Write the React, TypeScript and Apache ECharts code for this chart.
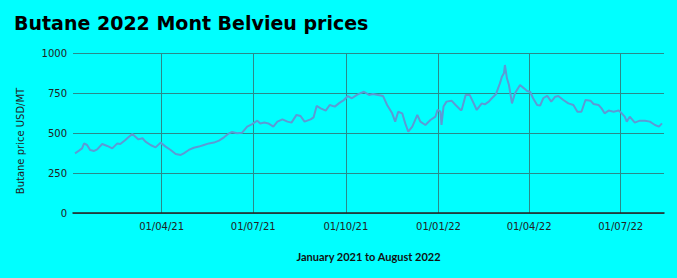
import React, { useEffect, useRef } from "react";
import * as echarts from "echarts";

// day offsets from 1 Jan 2021
const dayOffsets = [
  4, 8, 11, 13, 16, 19, 23, 26, 31, 36, 41, 46, 49, 54, 57, 61, 64, 67, 71, 74,
  79, 84, 89, 94, 99, 104, 109, 112, 117, 122, 127, 132, 137, 142, 147, 152, 157, 160, 165, 170,
  175, 180, 185, 188, 192, 196, 201, 205, 210, 215, 219, 224, 228, 232, 238, 241, 244, 248, 253, 257,
  262, 267, 271, 275, 279, 284, 287, 291, 296, 300, 305, 310, 314, 319, 322, 325, 329, 332, 335, 339,
  344, 347, 352, 357, 362, 364, 367, 368, 370, 373, 378, 382, 387, 388, 392, 396, 400, 403, 408, 411,
  415, 418, 422, 426, 428, 430, 431, 433, 435, 438, 441, 446, 450, 453, 456, 459, 463, 466, 469, 473,
  477, 481, 484, 489, 494, 499, 503, 507, 511, 516, 519, 524, 527, 530, 534, 539, 544, 547, 550, 552,
  555, 560, 565, 570, 575, 580, 584, 587,
];
const prices = [
  373, 390, 404, 435, 425, 394, 388, 398, 431, 419, 404, 435, 431, 456, 473, 494, 477, 460, 467, 446,
  425, 410, 440, 415, 394, 369, 363, 373, 394, 408, 415, 425, 435, 440, 452, 473, 498, 506, 498, 502,
  540, 556, 577, 560, 565, 560, 540, 571, 585, 571, 565, 613, 606, 571, 585, 598, 669, 654, 640, 675,
  665, 690, 706, 731, 717, 738, 748, 758, 738, 744, 738, 731, 675, 623, 571, 633, 623, 560, 508, 540,
  613, 571, 550, 581, 602, 644, 633, 550, 665, 696, 702, 675, 644, 644, 738, 738, 685, 644, 685, 679,
  696, 717, 742, 810, 852, 873, 925, 842, 800, 685, 748, 800, 779, 763, 758, 717, 675, 671, 717, 733,
  696, 727, 731, 706, 685, 675, 633, 633, 706, 702, 681, 675, 654, 623, 640, 633, 640, 623, 602, 571,
  602, 565, 577, 577, 571, 550, 540, 560,
];
const tickDates = ["2021-04-01", "2021-07-01", "2021-10-01", "2022-01-01", "2022-04-01", "2022-07-01"];
const yTicks = [0, 250, 500, 750, 1000];

const dayToTime = (d: number) => new Date(2021, 0, 1 + d).getTime();
const strToTime = (s: string) => {
  const [y, m, d] = s.split("-").map(Number);
  return new Date(y, m - 1, d).getTime();
};
const pad = (n: number) => (n < 10 ? "0" + n : "" + n);

export default function App() {
  const ref = useRef<HTMLDivElement>(null);
  useEffect(() => {
    if (!ref.current) return;
    const chart = echarts.init(ref.current, undefined, { renderer: "svg" });
    const data = dayOffsets.map((d, i) => [dayToTime(d), prices[i]]);
    const tickValues = tickDates.map(strToTime);
    chart.setOption({
      animation: false,
      backgroundColor: "#00FFFF",
      title: {
        text: "Butane 2022 Mont Belvieu prices",
        left: 9,
        top: 8,
        textStyle: {
          fontFamily: "DejaVu Sans",
          fontWeight: "bold",
          fontSize: 19,
          color: "#000",
        },
      },
      grid: { left: 73, right: 13, top: 53, bottom: 65, containLabel: false },
      xAxis: {
        type: "value",
        min: dayToTime(2),
        max: dayToTime(589),
        name: "January 2021 to August 2022",
        nameLocation: "middle",
        nameGap: 38,
        nameTextStyle: {
          fontFamily: "Lato",
          fontWeight: "bold",
          fontSize: 11,
          color: "#111",
        },
        axisLine: { show: true, onZero: false, lineStyle: { color: "#222", width: 1.5 } },
        axisTick: { show: false, customValues: tickValues },
        axisLabel: {
          customValues: tickValues,
          margin: 8,
          fontFamily: "DejaVu Sans",
          fontSize: 10,
          color: "#222",
          formatter: (v: number) => {
            const dt = new Date(v);
            return pad(dt.getDate()) + "/" + pad(dt.getMonth() + 1) + "/" + pad(dt.getFullYear() % 100);
          },
        },
        splitLine: { show: true, lineStyle: { color: "#2a8a8a", width: 1 } },
      },
      yAxis: {
        type: "value",
        min: yTicks[0],
        max: yTicks[yTicks.length - 1],
        interval: 250,
        name: "Butane price USD/MT",
        nameLocation: "middle",
        nameGap: 48,
        nameTextStyle: {
          fontFamily: "DejaVu Sans",
          fontSize: 10,
          color: "#222",
          padding: [0, 16, 0, 0],
        },
        axisLine: { show: false },
        axisTick: { show: false },
        axisLabel: {
          margin: 6,
          fontFamily: "DejaVu Sans",
          fontSize: 10,
          color: "#222",
          formatter: (v: number) => String(v),
        },
        splitLine: { show: true, lineStyle: { color: "#2a8a8a", width: 1 } },
      },
      series: [
        {
          type: "line",
          data,
          showSymbol: false,
          symbol: "none",
          lineStyle: { color: "#5b9bd5", width: 2 },
        },
      ],
    });
    return () => chart.dispose();
  }, []);
  return (
    <div
      ref={ref}
      style={{ position: "absolute", left: 0, top: 0, width: 677, height: 278 }}
    />
  );
}
